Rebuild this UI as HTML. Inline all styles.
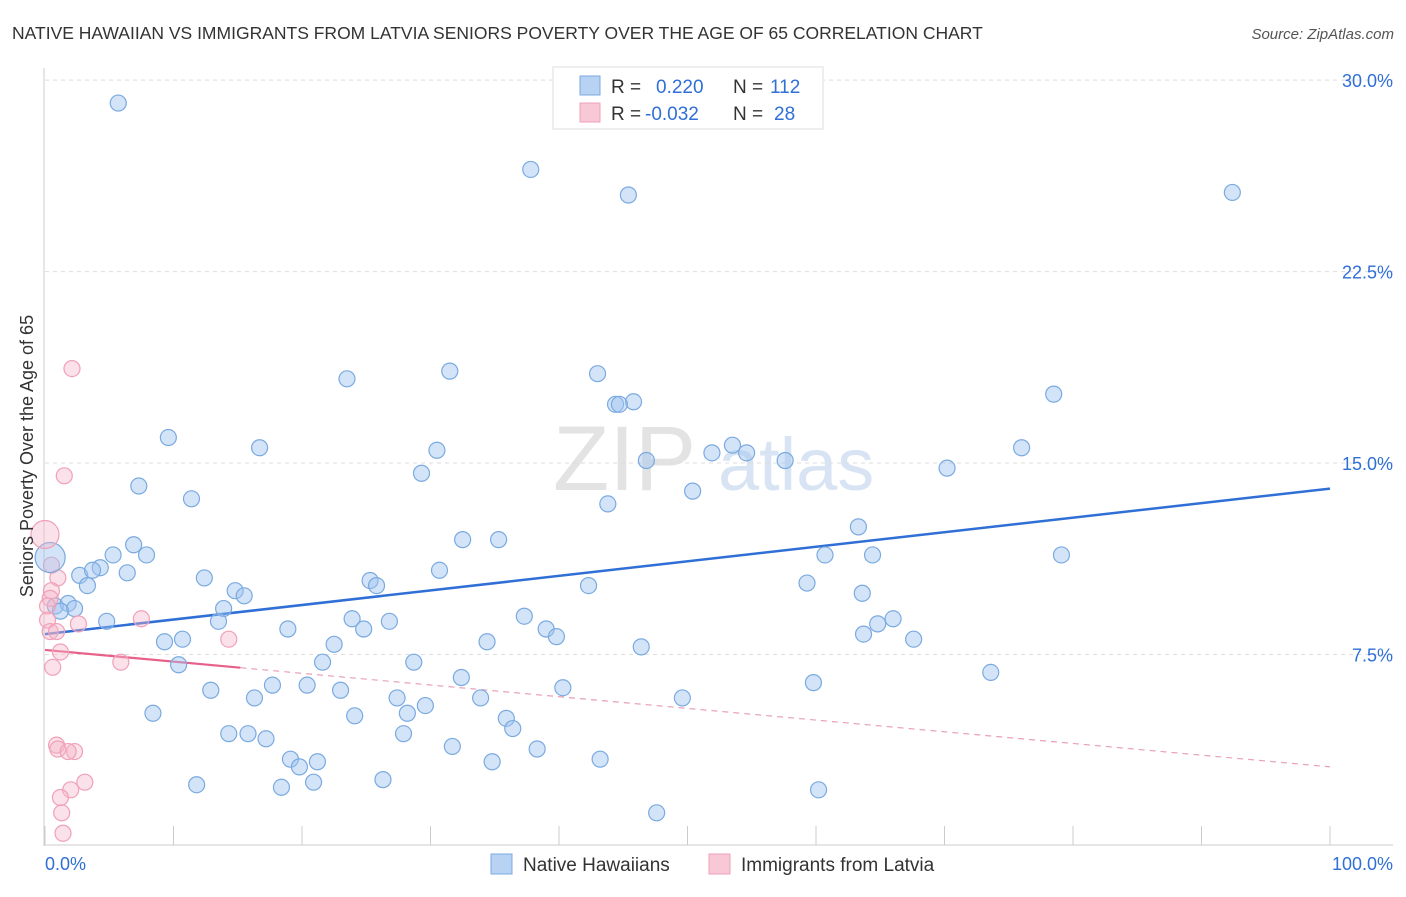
<!DOCTYPE html>
<html><head><meta charset="utf-8"><style>
body{margin:0;background:#fff;font-family:"Liberation Sans",sans-serif;}
svg text{font-family:"Liberation Sans",sans-serif;}
</style></head><body>
<svg id="chart" width="1406" height="892" xmlns="http://www.w3.org/2000/svg">
<text x="12" y="39" font-size="17.5" fill="#333">NATIVE HAWAIIAN VS IMMIGRANTS FROM LATVIA SENIORS POVERTY OVER THE AGE OF 65 CORRELATION CHART</text>
<text x="1394" y="39" font-size="15" fill="#555" text-anchor="end" font-style="italic">Source: ZipAtlas.com</text>
<g>
<text x="553" y="490" font-size="92" fill="#ddd" font-family="Liberation Serif" opacity="0.8">ZIP</text>
<text x="718" y="490" font-size="74" fill="#c8d8ee" opacity="0.7">atlas</text>
</g>
<g id="grid"></g>
<g id="axes"></g>
<g id="trends"></g>
<g id="pts"></g>
<text transform="translate(33,456) rotate(-90)" font-size="18" fill="#333" text-anchor="middle">Seniors Poverty Over the Age of 65</text>
<g>
<rect x="553" y="67" width="270" height="62" fill="#fff" stroke="#ddd"/>
<rect x="580" y="76" width="20" height="19" fill="#b8d2f4" stroke="#7aaae0"/>
<rect x="580" y="103" width="20" height="19" fill="#f8c8d6" stroke="#f0a0b8"/>
<text x="611" y="93" font-size="19" fill="#333">R =</text>
<text x="656" y="93" font-size="19" fill="#2f6fd6">0.220</text>
<text x="733" y="93" font-size="19" fill="#333">N =</text>
<text x="770" y="93" font-size="19" fill="#2f6fd6">112</text>
<text x="611" y="120" font-size="19" fill="#333">R =</text>
<text x="645" y="120" font-size="19" fill="#2f6fd6">-0.032</text>
<text x="733" y="120" font-size="19" fill="#333">N =</text>
<text x="774" y="120" font-size="19" fill="#2f6fd6">28</text>
</g>
<g>
<rect x="491" y="854" width="21" height="20" fill="#b8d2f4" stroke="#7aaae0"/>
<text x="523" y="871" font-size="19" fill="#333">Native Hawaiians</text>
<rect x="709" y="854" width="21" height="20" fill="#f8c8d6" stroke="#f0a0b8"/>
<text x="741" y="871" font-size="19" fill="#333">Immigrants from Latvia</text>
</g>
<text x="45" y="870" font-size="18" fill="#2f6fd6">0.0%</text>
<text x="1393" y="870" font-size="18" fill="#2f6fd6" text-anchor="end">100.0%</text>
</svg>
<script>
const yTicks=[7.5,15,22.5,30];
const yTickLabels=["7.5%","15.0%","22.5%","30.0%"];
const xTicks=[0,10,20,30,40,50,60,70,80,90,100];
const blueX=[5.7,37.8,45.4,92.4,23.5,31.5,43.0,78.5,44.4,45.8,44.7,9.6,16.7,30.5,53.5,51.9,54.6,57.6,46.8,76.0,70.2,29.3,7.3,11.4,50.4,43.8,63.3,32.5,35.3,6.9,7.9,5.3,60.7,64.4,79.1,4.3,2.7,3.7,6.4,3.3,12.4,30.7,25.3,25.8,42.3,59.3,14.8,15.5,63.6,0.8,1.8,2.3,1.2,13.9,37.3,4.8,13.5,23.9,26.8,66.0,64.8,18.9,24.8,39.0,39.8,63.7,10.7,9.3,22.5,34.4,67.6,46.4,10.4,21.6,28.7,73.6,32.4,17.7,20.4,12.9,23.0,40.3,59.8,16.3,27.4,33.9,49.6,29.6,8.4,28.2,24.1,35.9,36.4,14.3,15.8,17.2,27.9,31.7,38.3,19.1,19.8,21.2,34.8,43.2,26.3,20.9,11.8,18.4,60.2,47.6];
const blueY=[29.1,26.5,25.5,25.6,18.3,18.6,18.5,17.7,17.3,17.4,17.3,16.0,15.6,15.5,15.7,15.4,15.4,15.1,15.1,15.6,14.8,14.6,14.1,13.6,13.9,13.4,12.5,12.0,12.0,11.8,11.4,11.4,11.4,11.4,11.4,10.9,10.6,10.8,10.7,10.2,10.5,10.8,10.4,10.2,10.2,10.3,10.0,9.8,9.9,9.4,9.5,9.3,9.2,9.3,9.0,8.8,8.8,8.9,8.8,8.9,8.7,8.5,8.5,8.5,8.2,8.3,8.1,8.0,7.9,8.0,8.1,7.8,7.1,7.2,7.2,6.8,6.6,6.3,6.3,6.1,6.1,6.2,6.4,5.8,5.8,5.8,5.8,5.5,5.2,5.2,5.1,5.0,4.6,4.4,4.4,4.2,4.4,3.9,3.8,3.4,3.1,3.3,3.3,3.4,2.6,2.5,2.4,2.3,2.2,1.3];
const pinkX=[2.1,1.5,0.5,1.0,0.5,0.4,0.2,7.5,2.6,0.2,0.4,0.9,14.3,1.2,5.9,0.6,0.9,1.0,2.3,1.8,3.1,2.0,1.2,1.3,1.4];
const pinkY=[18.7,14.5,11.0,10.5,10.0,9.7,9.4,8.9,8.7,8.85,8.4,8.4,8.1,7.6,7.2,7.0,3.95,3.8,3.7,3.7,2.5,2.2,1.9,1.3,0.5];
const bigBlue=[0.4,11.3], bigPink=[0,12.2];
const blueTrend=[8.3,14.0];
const pinkTrend=[7.68,3.1];
const pinkSolidEnd=15.2;
const X=v=>45+v*12.85, Y=v=>846-v*25.53;
const NS="http://www.w3.org/2000/svg";
function mk(p,t,a){const e=document.createElementNS(NS,t);for(const k in a)e.setAttribute(k,a[k]);document.getElementById(p).appendChild(e);return e;}
yTicks.forEach((t,i)=>{
 const l=mk('grid','line',{x1:45,x2:1393,y1:Y(t),y2:Y(t),stroke:'#ddd','stroke-dasharray':'4,4'});
 
 
 const tx=mk('grid','text',{x:1393,y:Y(t)+7,'font-size':18,fill:'#2f6fd6','text-anchor':'end'});
 tx.textContent=yTickLabels[i];
 
 
});
const ax=mk('axes','line',{x1:44,x2:44,y1:68,y2:846,stroke:'#ccc'});


const bx=mk('axes','line',{x1:44,x2:1393,y1:845,y2:845,stroke:'#ccc'});


xTicks.forEach(t=>{
 const l=mk('axes','line',{x1:X(t),x2:X(t),y1:826,y2:845,stroke:'#ccc'});
 
 
});
function dot(x,y,r,f,s,n){const c=mk('pts','circle',{cx:X(x),cy:Y(y),r:r,fill:f,stroke:s,'stroke-width':1.2});
 
 }
blueX.forEach((x,i)=>dot(x,blueY[i],8,'rgba(160,196,240,0.45)','#7aaae0','native-hawaiian-point'));
pinkX.forEach((x,i)=>dot(x,pinkY[i],8,'rgba(245,180,200,0.4)','#f0a0b8','latvia-point'));
dot(bigBlue[0],bigBlue[1],15,'rgba(160,196,240,0.45)','#7aaae0','native-hawaiian-point');
dot(bigPink[0],bigPink[1],14,'rgba(245,180,200,0.4)','#f0a0b8','latvia-point');
const bt=mk('trends','line',{x1:X(0),y1:Y(blueTrend[0]),x2:X(100),y2:Y(blueTrend[1]),stroke:'#2f6fd6','stroke-width':2.5});


const py=v=>pinkTrend[0]+(pinkTrend[1]-pinkTrend[0])*v/100;
const ps=mk('trends','line',{x1:X(0),y1:Y(py(0)),x2:X(pinkSolidEnd),y2:Y(py(pinkSolidEnd)),stroke:'#e8608a','stroke-width':2.2});


const pd=mk('trends','line',{x1:X(pinkSolidEnd),y1:Y(py(pinkSolidEnd)),x2:X(100),y2:Y(py(100)),stroke:'#e8a0b8','stroke-width':1.2,'stroke-dasharray':'6,5'});


</script>
</body></html>
